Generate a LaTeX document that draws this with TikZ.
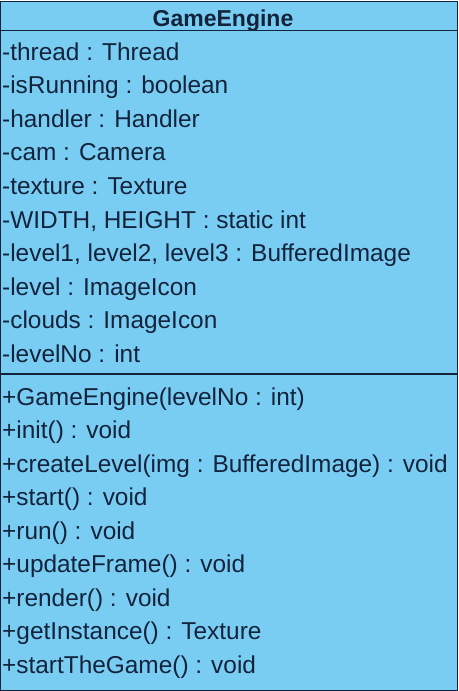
\documentclass[tikz,border=0pt]{standalone}
\usepackage{fontspec}
\setmainfont{Liberation Sans}
\definecolor{classfill}{HTML}{7ACDF2}
\definecolor{ink}{HTML}{13233C}
\begin{document}
\begin{tikzpicture}[x=1pt,y=-1pt,
  member/.style={anchor=base west,inner sep=0pt,text=ink,font=\fontsize{24.4}{27}\selectfont},
  title/.style={anchor=base,inner sep=0pt,text=ink,font=\fontsize{23}{25}\selectfont\bfseries},
  rule/.style={draw=ink,line width=1.6pt}]
\useasboundingbox (0,0) rectangle (458,691);
% class box
\draw[fill=classfill,draw=ink,line width=1pt] (0.5,1) rectangle (457.5,690.5);
\node[title] (name) at (223,26) {GameEngine};
\draw[rule] (0.5,30.5) -- (457.5,30.5);
% attributes
\foreach \t [count=\i from 0] in {%
  -thread : Thread,%
  -isRunning : boolean,%
  -handler : Handler,%
  -cam : Camera,%
  -texture : Texture,%
  {-WIDTH, HEIGHT : static int},%
  {-level1, level2, level3 : BufferedImage},%
  -level : ImageIcon,%
  -clouds : ImageIcon,%
  -levelNo : int}
  \node[member] (attr\i) at (2,60+33.6*\i) {\t};
\draw[rule] (0.5,374) -- (457.5,374);
% operations
\foreach \t [count=\i from 0] in {%
  +GameEngine(levelNo : int),%
  +init() : void,%
  +createLevel(img : BufferedImage) : void,%
  +start() : void,%
  +run() : void,%
  +updateFrame() : void,%
  +render() : void,%
  +getInstance() : Texture,%
  +startTheGame() : void}
  \node[member] (op\i) at (2,405+33.5*\i) {\t};
\end{tikzpicture}
\end{document}
